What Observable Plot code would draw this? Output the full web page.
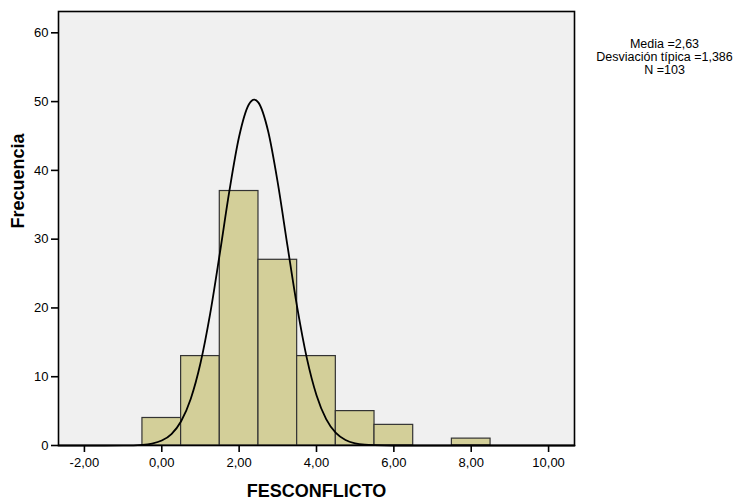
<!DOCTYPE html>
<html>
<head>
<meta charset="utf-8">
<script src="https://cdn.jsdelivr.net/npm/d3@7"></script>
<script src="https://cdn.jsdelivr.net/npm/@observablehq/plot@0.6"></script>
<style>
  html, body { margin: 0; padding: 0; background: #ffffff; }
  #chart svg { display: block; }
</style>
</head>
<body>
<div id="chart"></div>
<script>
// Histogram bins (lower edge, upper edge) and frequencies
const binLo = [-0.5, 0.5, 1.5, 2.5, 3.5, 4.5, 5.5, 7.5];
const binHi = [0.5, 1.5, 2.5, 3.5, 4.5, 5.5, 6.5, 8.5];
const counts = [4, 13, 37, 27, 13, 5, 3, 1];

// Normal curve
const curveX = [-2.67, -1.5, -1, -0.5, -0.25, 0, 0.25, 0.5, 0.75, 1, 1.25, 1.5, 1.75, 2, 2.25, 2.39, 2.5, 2.75, 3, 3.25, 3.5, 3.75, 4, 4.25, 4.5, 4.75, 5, 5.25, 5.5, 6, 7, 8, 9, 10.67];
const curveY = [0, 0, 0.01, 0.10, 0.28, 0.72, 1.67, 3.53, 6.81, 11.96, 19.14, 27.91, 37.09, 44.92, 49.57, 50.3, 49.85, 45.68, 38.14, 29.02, 20.12, 12.71, 7.32, 3.84, 1.83, 0.80, 0.32, 0.11, 0.04, 0, 0, 0, 0, 0];

const xTicks = [-2, 0, 2, 4, 6, 8, 10];
const yTicks = [0, 10, 20, 30, 40, 50, 60];
const xTitle = "FESCONFLICTO";
const yTitle = "Frecuencia";
const statsText = ["Media =2,63", "Desviación típica =1,386", "N =103"];

const bars = counts.map((c, i) => ({x1: binLo[i], x2: binHi[i], y: c}));
const curve = curveX.map((x, i) => ({x, y: curveY[i]}));

const chart = Plot.plot({
  width: 745,
  height: 504,
  marginLeft: 58,
  marginRight: 171,
  marginTop: 11,
  marginBottom: 59,
  style: {fontFamily: "'Liberation Sans', Arial, sans-serif", fontSize: "13px", background: "#ffffff", color: "#000"},
  x: {domain: [-2.67, 10.67]},
  y: {domain: [0, 63.1]},
  marks: [
    Plot.frame({fill: "#f0f0f0", stroke: "none"}),
    Plot.rectY(bars, {x1: "x1", x2: "x2", y: "y", fill: "#d3cf99", stroke: "#333333", strokeWidth: 1.2}),
    Plot.line(curve, {x: "x", y: "y", stroke: "#000", strokeWidth: 1.8, curve: "monotone-x"}),
    Plot.frame({stroke: "#000", strokeWidth: 1.6}),
    Plot.axisX({ticks: xTicks, tickSize: 7, tickPadding: 5, strokeWidth: 1.6, label: null,
      tickFormat: d => d.toFixed(2).replace(".", ","), fontSize: 13}),
    Plot.axisY({ticks: yTicks, tickSize: 7, tickPadding: 3, strokeWidth: 1.6, label: null,
      tickFormat: d3.format("d"), fontSize: 13}),
    Plot.text([xTitle], {frameAnchor: "bottom", dy: 51, fontSize: 18, fontWeight: "bold", text: d => d}),
    Plot.text([yTitle], {frameAnchor: "left", dx: -40, rotate: -90, fontSize: 18, fontWeight: "bold", text: d => d}),
    Plot.text([statsText.join("\n")], {frameAnchor: "top-right", dx: 90, dy: 27, textAnchor: "middle", lineAnchor: "top", lineHeight: 1.05, fontSize: 12.5, text: d => d})
  ]
});
document.getElementById("chart").appendChild(chart);
</script>
</body>
</html>
